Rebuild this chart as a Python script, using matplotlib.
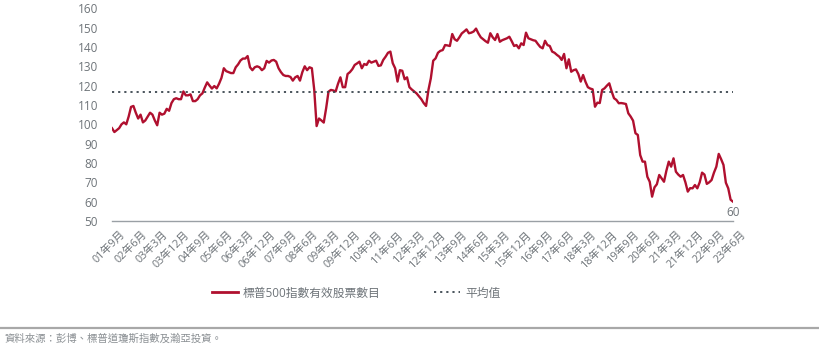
import matplotlib.pyplot as plt
from matplotlib.lines import Line2D
from matplotlib.transforms import ScaledTranslation

plt.rcParams['font.family'] = ['Open Sans', 'Noto Sans CJK TC', 'DejaVu Sans']

# 標普500指數有效股票數目 (每月, 2001年9月 至 2023年6月)
valores = [
    98, 96, 97, 98, 100, 101, 100, 104, 109, 109.5, 106, 103,
    105, 101, 102, 104, 106, 105, 102, 99.5, 106, 105, 105.5, 108,
    107, 111, 113, 113.5, 113, 113, 117, 115, 115, 115.5, 112, 112,
    113, 115, 116, 119, 121.7, 120, 118.5, 119.8, 118.6, 121, 124, 129,
    127.5, 127, 126.5, 126.5, 129.5, 131, 133, 134, 134, 135.3, 129.5, 128,
    129.5, 130, 129.5, 128, 129, 132.8, 131.9, 133, 133.3, 132.4, 129, 127,
    125.5, 125, 125, 124.5, 122.6, 124.3, 125, 122.6, 127, 130, 128, 129.5,
    129, 117.8, 99.1, 103, 102, 100.9, 108.3, 116.9, 117.8, 117.5, 117, 121,
    124.3, 119.2, 119.2, 126, 127, 128.5, 130.7, 131.5, 132.4, 129, 131.2, 130.7,
    132.9, 131.9, 132.4, 132.9, 130.2, 130.5, 133.3, 135, 137, 137.6, 131.6, 129,
    122.1, 128, 127.7, 123.3, 124.3, 119.2, 118, 117, 116, 114.5, 113, 111,
    109.5, 117.8, 123.8, 132.9, 134.1, 137, 138, 138.4, 141, 140.8, 140.5, 146.7,
    144, 143.2, 145, 147, 148, 149.1, 147.1, 147.4, 148, 149.5, 147, 145,
    144, 143, 142.2, 147.1, 145, 143.6, 146.7, 142.7, 143.5, 144, 144.5, 145.3,
    143, 140.5, 141, 139.3, 141.9, 141, 147.4, 144.5, 144, 143.5, 143.2, 141.5,
    140, 139.3, 143.2, 141, 140.5, 137.6, 137, 135.9, 135, 133.3, 136.4, 129,
    133.6, 127.2, 128, 128.4, 126, 122.1, 125.5, 122, 119.2, 118.5, 118.1, 109.1,
    111.2, 111, 117.8, 118.6, 120, 121.2, 117, 113.5, 112.6, 110.9, 111, 110.8,
    110.5, 105.7, 104, 101.9, 95.4, 94.5, 84.1, 80.7, 80.7, 72.9, 70.3, 62.6,
    67.4, 69, 73.8, 72, 70.3, 76, 80.7, 78.1, 82.4, 75.5, 74, 72.9,
    73.8, 70, 65.2, 67, 66.9, 68.6, 66.9, 70, 75, 74, 69.2, 70,
    71.2, 75, 78.1, 84.7, 82, 79, 69.8, 66.9, 61, 60,
]
promedio = 116.7

etiquetas_x = [
    '01年9月', '02年6月', '03年3月', '03年12月', '04年9月', '05年6月',
    '06年3月', '06年12月', '07年9月', '08年6月', '09年3月', '09年12月',
    '10年9月', '11年6月', '12年3月', '12年12月', '13年9月', '14年6月',
    '15年3月', '15年12月', '16年9月', '17年6月', '18年3月', '18年12月',
    '19年9月', '20年6月', '21年3月', '21年12月', '22年9月', '23年6月',
]
posiciones_x = list(range(0, len(valores), 9))

rojo = '#b0102f'
gris = '#6e7479'
gris_oscuro = '#3c474f'
punteado = (0, (1.2, 2.2))

fig = plt.figure(figsize=(8.2, 3.49), dpi=100)
ax = fig.add_axes([112 / 820, 128 / 349, 621 / 820, 212.7 / 349])

meses = list(range(len(valores)))
ax.plot(meses, valores, color=rojo, lw=1.7, solid_joinstyle='round')
ax.plot([meses[0], meses[-1]], [promedio, promedio], color=gris_oscuro,
        lw=1.3, ls=punteado)

ax.annotate(f'{valores[-1]:g}', (meses[-1], valores[-1]), xytext=(0, -8),
            textcoords='offset points', ha='center', va='center',
            fontsize=8.5, color=gris)

ax.set_xlim(0, len(valores) - 1)
ax.set_ylim(50, 160)
ax.set_yticks(range(50, 161, 10))
ax.set_xticks(posiciones_x)
ax.set_xticklabels(etiquetas_x, rotation=45, ha='right', rotation_mode='anchor')
ax.tick_params(axis='both', length=0, colors=gris)
ax.tick_params(axis='y', pad=10, labelsize=8.5)
ax.tick_params(axis='x', pad=6, labelsize=7.8)

# desplazar las etiquetas del eje x un poco a la derecha
desplazamiento = ScaledTranslation(8 / 100, 0, fig.dpi_scale_trans)
for etiqueta in ax.get_xticklabels():
    etiqueta.set_transform(etiqueta.get_transform() + desplazamiento)

for lado in ['top', 'right', 'left']:
    ax.spines[lado].set_visible(False)
ax.spines['bottom'].set_color('#9aa0a5')
ax.spines['bottom'].set_linewidth(1.0)

handles = [
    Line2D([], [], color=rojo, lw=2),
    Line2D([], [], color=gris_oscuro, lw=1.3, ls=punteado),
]
fig.legend(handles, ['標普500指數有效股票數目', '平均值'], loc='center',
           bbox_to_anchor=(356 / 820, 1 - 293 / 349), ncol=2, frameon=False,
           fontsize=8.5, handlelength=2.2, handletextpad=0.4, columnspacing=4.6,
           labelcolor=gris)

fig.add_artist(Line2D([0, 1], [1 - 328 / 349] * 2, color='#a8a8a8', lw=1.6,
                      transform=fig.transFigure))
fig.text(5 / 820, 1 - 339 / 349, '資料來源：彭博、標普道瓊斯指數及瀚亞投資。',
         fontsize=7.5, color='#8a8f93', va='center', ha='left')

fig.savefig('out.png', dpi=100)
